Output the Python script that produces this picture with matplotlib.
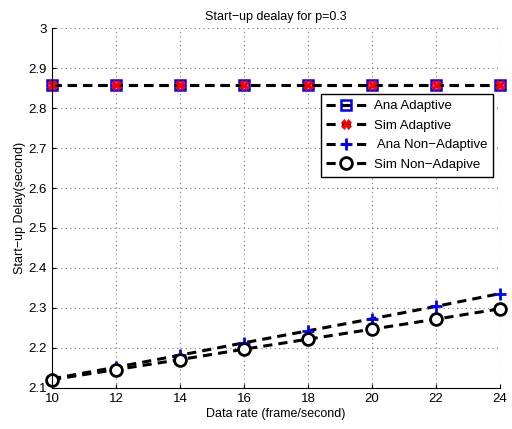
import matplotlib
matplotlib.use("Agg")
import matplotlib.pyplot as plt

rate = [10, 12, 14, 16, 18, 20, 22, 24]
ana_adaptive = [2.857, 2.857, 2.857, 2.857, 2.857, 2.857, 2.857, 2.857]
sim_adaptive = [2.857, 2.857, 2.857, 2.857, 2.857, 2.857, 2.857, 2.857]
ana_nonadaptive = [2.123, 2.152, 2.182, 2.213, 2.243, 2.273, 2.304, 2.336]
sim_nonadaptive = [2.121, 2.146, 2.171, 2.197, 2.222, 2.247, 2.272, 2.298]

plt.rcParams['font.family'] = ['Liberation Sans', 'DejaVu Sans']

fig = plt.figure(figsize=(5.12, 4.29), dpi=100)
ax = fig.add_axes([0.1016, 0.0956, 0.875, 0.8391])

ax.plot(rate, ana_adaptive, 'k--', lw=2.2, dashes=(3, 2), marker='s', ms=7,
        mfc='none', mec='blue', mew=1.8, label='Ana Adaptive', clip_on=False)
ax.plot(rate, sim_adaptive, 'k--', lw=2.2, dashes=(3, 2), marker='X', ms=6.5,
        mfc='red', mec='red', mew=0.5, label='Sim Adaptive', clip_on=False)
ax.plot(rate, ana_nonadaptive, 'k--', lw=2.2, dashes=(3, 2), marker='+', ms=9,
        mec='blue', mew=2, label=' Ana Non\u2212Adaptive', clip_on=False)
ax.plot(rate, sim_nonadaptive, 'k--', lw=2.2, dashes=(3, 2), marker='o', ms=8.5,
        mfc='white', mec='black', mew=2, label='Sim Non\u2212Adapive', clip_on=False)

ax.set_xlim(10, 24)
ax.set_ylim(2.1, 3.0)
ax.set_xticks(rate)
ax.set_yticks([2.1, 2.2, 2.3, 2.4, 2.5, 2.6, 2.7, 2.8, 2.9, 3.0])
ax.set_yticklabels(['2.1', '2.2', '2.3', '2.4', '2.5', '2.6', '2.7', '2.8', '2.9', '3'])
ax.tick_params(direction='in', labelsize=9.5, length=3)
ax.grid(True, linestyle=(0, (1, 3)), color='#777777', lw=0.8)
for s in ['top', 'right']:
    ax.spines[s].set_visible(False)

ax.set_xlabel('Data rate (frame/second)', fontsize=9, labelpad=2)
ax.set_ylabel('Start\u2212up Delay(second)', fontsize=9, labelpad=2)
ax.set_title('Start\u2212up dealay for p=0.3', fontsize=9, pad=6)

leg = ax.legend(loc='upper right', bbox_to_anchor=(1.0, 0.835), fontsize=9.5,
                fancybox=False, edgecolor='black', framealpha=1,
                handlelength=3.0, borderpad=0.45, labelspacing=0.55,
                handletextpad=0.6)
leg.get_frame().set_linewidth(1.0)

fig.savefig('out.png', dpi=100)
